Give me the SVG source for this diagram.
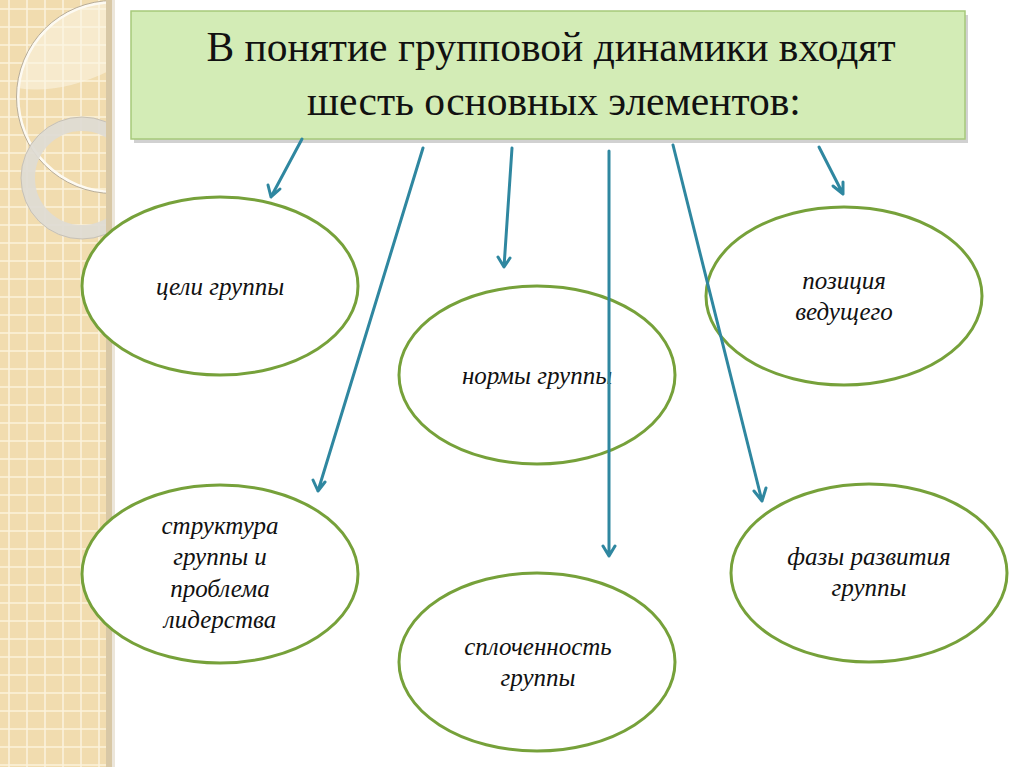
<svg xmlns="http://www.w3.org/2000/svg" width="1024" height="767" viewBox="0 0 1024 767" xml:lang="ru" font-family="Liberation Serif, Times New Roman, serif">
  <style>
    .oval { fill: #ffffff; stroke: #76a13a; stroke-width: 3; }
    .conn { fill: none; stroke: #2f87a0; stroke-width: 3; stroke-linecap: round; stroke-linejoin: round; }
  </style>

  <rect width="1024" height="767" fill="#ffffff"/>

  <!-- left decorative strip -->
  <g id="strip">
    <rect x="0" y="0" width="111" height="767" fill="#f1dcaf"/>
    <path d="M0 9H111M0 27H111M0 45H111M0 63H111M0 81H111M0 99H111M0 117H111M0 135H111M0 153H111M0 171H111M0 189H111M0 207H111M0 225H111M0 243H111M0 261H111M0 279H111M0 297H111M0 315H111M0 333H111M0 351H111M0 369H111M0 387H111M0 405H111M0 423H111M0 441H111M0 459H111M0 477H111M0 495H111M0 513H111M0 531H111M0 549H111M0 567H111M0 585H111M0 603H111M0 621H111M0 639H111M0 657H111M0 675H111M0 693H111M0 711H111M0 729H111M0 747H111M0 765H111M9 0V767M27 0V767M45 0V767M63 0V767M81 0V767M99 0V767" stroke="#fbf2dc" stroke-width="1.6"/>
    <path d="M111 2 A95 95 0 0 0 17 88 Q60 95 111 70 Z" fill="#fbf5e6" fill-opacity="0.55"/>
    <circle cx="113" cy="97" r="95" fill="none" stroke="#fdfaf2" stroke-width="3"/>
    <circle cx="113" cy="97" r="96.5" fill="none" stroke="#b8ad99" stroke-width="1"/>
    <circle cx="82" cy="178" r="54" fill="none" stroke="#dedbd4" stroke-width="14" stroke-opacity="0.92"/>
    <circle cx="82" cy="178" r="61" fill="none" stroke="#c7c1b5" stroke-width="1"/>
    <rect x="112" y="0" width="110" height="260" fill="#ffffff"/>
    <rect x="106" y="0" width="6" height="767" fill="#d8c8a6"/>
    <rect x="112" y="0" width="3" height="767" fill="#ece6da"/>
  </g>

  <!-- title -->
  <g id="title">
    <rect x="134" y="15" width="834" height="128" fill="#000000" fill-opacity="0.18"/>
    <rect x="131" y="11" width="834" height="128" fill="#d3ecb6" stroke="#a6c97a" stroke-width="1.5"/>
    <text x="551" y="61" font-family="Liberation Serif, Times New Roman, serif" font-size="41.5" fill="#111" text-anchor="middle">В понятие групповой динамики входят</text>
    <text x="554" y="115" font-family="Liberation Serif, Times New Roman, serif" font-size="41.5" fill="#111" text-anchor="middle">шесть основных элементов:</text>
  </g>

  <!-- nodes -->
  <g id="node-goals">
    <ellipse class="oval" cx="220" cy="286" rx="138" ry="89"/>
    <text x="220" y="295" font-family="Liberation Serif, Times New Roman, serif" font-style="italic" font-size="25" fill="#111" text-anchor="middle">цели группы</text>
  </g>
  <g id="node-norms">
    <ellipse class="oval" cx="537" cy="375" rx="138" ry="89"/>
    <text x="537" y="384" font-family="Liberation Serif, Times New Roman, serif" font-style="italic" font-size="25" fill="#111" text-anchor="middle">нормы группы</text>
  </g>
  <g id="node-position">
    <ellipse class="oval" cx="844" cy="296" rx="138" ry="89"/>
    <text x="844" y="289" font-family="Liberation Serif, Times New Roman, serif" font-style="italic" font-size="25" fill="#111" text-anchor="middle">позиция</text>
    <text x="844" y="320" font-family="Liberation Serif, Times New Roman, serif" font-style="italic" font-size="25" fill="#111" text-anchor="middle">ведущего</text>
  </g>
  <g id="node-structure">
    <ellipse class="oval" cx="220" cy="574" rx="138" ry="89"/>
    <text x="220" y="534" font-family="Liberation Serif, Times New Roman, serif" font-style="italic" font-size="25" fill="#111" text-anchor="middle">структура</text>
    <text x="220" y="565" font-family="Liberation Serif, Times New Roman, serif" font-style="italic" font-size="25" fill="#111" text-anchor="middle">группы и</text>
    <text x="220" y="597" font-family="Liberation Serif, Times New Roman, serif" font-style="italic" font-size="25" fill="#111" text-anchor="middle">проблема</text>
    <text x="220" y="628" font-family="Liberation Serif, Times New Roman, serif" font-style="italic" font-size="25" fill="#111" text-anchor="middle">лидерства</text>
  </g>
  <g id="node-cohesion">
    <ellipse class="oval" cx="537" cy="662" rx="138" ry="89"/>
    <text x="538" y="655" font-family="Liberation Serif, Times New Roman, serif" font-style="italic" font-size="25" fill="#111" text-anchor="middle">сплоченность</text>
    <text x="538" y="686" font-family="Liberation Serif, Times New Roman, serif" font-style="italic" font-size="25" fill="#111" text-anchor="middle">группы</text>
  </g>
  <g id="node-phases">
    <ellipse class="oval" cx="869" cy="573" rx="138" ry="89"/>
    <text x="869" y="565" font-family="Liberation Serif, Times New Roman, serif" font-style="italic" font-size="25" fill="#111" text-anchor="middle">фазы развития</text>
    <text x="869" y="596" font-family="Liberation Serif, Times New Roman, serif" font-style="italic" font-size="25" fill="#111" text-anchor="middle">группы</text>
  </g>

  <!-- connectors (arrowheads drawn as open V strokes) -->
  <g id="connectors" class="conn">
    <path d="M302 139L271 197M268 185L271 197L280 189"/>
    <path d="M423 148L318 491M313 480L318 491L325 482"/>
    <path d="M512 148L504 267M498 257L504 267L510 258"/>
    <path d="M609 151L609 556M603 546L609 556L615 546"/>
    <path d="M673 145L762 501M754 491L762 501L766 488"/>
    <path d="M819 147L843 194M833 186L843 194L843 182"/>
  </g>
</svg>
